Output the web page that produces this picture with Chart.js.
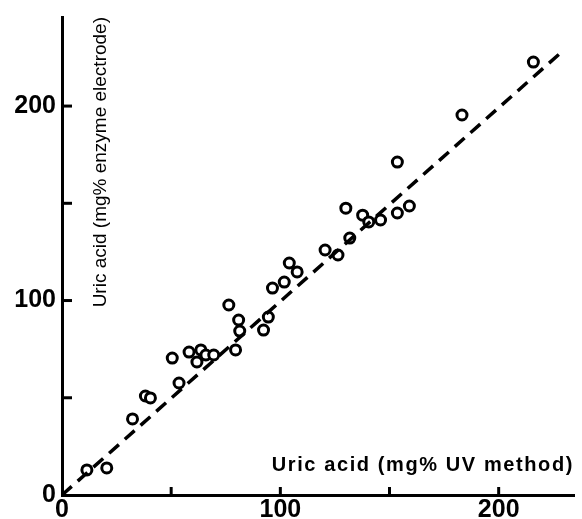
<!DOCTYPE html>
<html>
<head>
<meta charset="utf-8">
<script src="https://cdn.jsdelivr.net/npm/chart.js@4"></script>
<style>
  html, body { margin: 0; padding: 0; background: #fff; }
  #wrap { width: 582px; height: 519px; }
</style>
</head>
<body>
<div id="wrap"><canvas id="uricChart"></canvas></div>
<script>
// UV method (x) vs enzyme electrode (y), mg%
const uvMethod = [11.4, 20.5, 32.3, 38.2, 40.5, 53.6, 50.5, 58.2, 61.8, 63.6, 65.9, 69.5,
    79.5, 81.4, 80.9, 76.4, 92.3, 94.5, 96.4, 101.8, 104.1, 107.7, 120.5, 126.4,
    131.8, 130.0, 137.7, 140.5, 145.9, 153.6, 159.1, 153.6, 183.2, 215.9];
const enzymeElectrode = [12.9, 13.9, 39.1, 50.9, 49.9, 57.6, 70.4, 73.5, 68.4, 74.6, 72.0, 72.0,
    74.6, 84.3, 90.0, 97.7, 84.8, 91.5, 106.4, 109.5, 119.3, 114.7, 126.0, 123.4,
    132.1, 147.5, 143.9, 140.4, 141.4, 145.0, 148.6, 171.2, 195.4, 222.6];

// regression line ends
const fitX = [0, 229];
const fitY = [0, 228];

const tickValues = [0, 50, 100, 150, 200];
const tickLabels = ['0', '', '100', '', '200'];

const xTitle = 'Uric acid (mg% UV method)';
const yTitle = 'Uric acid (mg% enzyme electrode)';

const points = uvMethod.map((v, i) => ({ x: v, y: enzymeElectrode[i] }));
const fitLine = fitX.map((v, i) => ({ x: v, y: fitY[i] }));

// inward tick marks + titles inside the plot
const innerBits = {
    id: 'innerBits',
    afterDraw(chart) {
        const c = chart.ctx;
        const xs = chart.scales.x, ys = chart.scales.y;
        const area = chart.chartArea;
        c.save();
        c.strokeStyle = '#000';
        c.lineWidth = 3;
        tickValues.forEach(v => {
            if (v === 0) return;
            const px = xs.getPixelForValue(v);
            c.beginPath(); c.moveTo(px, area.bottom); c.lineTo(px, area.bottom - 8); c.stroke();
            const py = ys.getPixelForValue(v);
            c.beginPath(); c.moveTo(area.left, py); c.lineTo(area.left + 10, py); c.stroke();
        });
        c.fillStyle = '#000';
        c.textBaseline = 'alphabetic';
        c.textAlign = 'right';
        c.font = 'bold 20px "Liberation Sans", Arial, sans-serif';
        c.letterSpacing = '1.6px';
        c.fillText(xTitle, area.right, area.bottom - 24);
        c.letterSpacing = '0px';
        c.font = '19px "Liberation Sans", Arial, sans-serif';
        c.translate(area.left + 44, area.top);
        c.rotate(-Math.PI / 2);
        c.fillText(yTitle, 0, 0);
        c.restore();
    }
};

const ctx = document.getElementById('uricChart').getContext('2d');
new Chart(ctx, {
    type: 'scatter',
    data: {
        datasets: [{
            label: 'fit',
            type: 'line',
            data: fitLine,
            borderColor: '#000',
            borderWidth: 3.5,
            borderDash: [13, 8],
            pointRadius: 0,
            fill: false
        }, {
            label: 'samples',
            data: points,
            pointStyle: 'circle',
            pointRadius: 5,
            borderWidth: 3,
            borderColor: '#000',
            backgroundColor: '#fff'
        }]
    },
    plugins: [innerBits],
    options: {
        responsive: true,
        maintainAspectRatio: false,
        animation: false,
        layout: { padding: { top: 17, right: 4, left: 0, bottom: 0 } },
        plugins: {
            legend: { display: false },
            tooltip: { enabled: false }
        },
        scales: {
            x: {
                type: 'linear',
                min: 0,
                max: 234.5,
                afterBuildTicks: s => { s.ticks = tickValues.map(v => ({ value: v })); },
                afterFit: s => { s.height = 24; s.paddingLeft = 0; s.paddingRight = 0; },
                grid: { display: false, drawTicks: false },
                border: { display: true, color: '#000', width: 3 },
                ticks: {
                    color: '#000',
                    padding: 0,
                    maxRotation: 0,
                    autoSkip: false,
                    font: { family: 'Liberation Sans', size: 25, weight: 'bold' },
                    callback: (v, i) => tickLabels[i]
                }
            },
            y: {
                type: 'linear',
                min: 0,
                max: 245.8,
                afterBuildTicks: s => { s.ticks = tickValues.map(v => ({ value: v })); },
                afterFit: s => { s.width = 62; s.paddingTop = 0; s.paddingBottom = 0; },
                grid: { display: false, drawTicks: false },
                border: { display: true, color: '#000', width: 3 },
                ticks: {
                    color: '#000',
                    padding: 6,
                    autoSkip: false,
                    font: { family: 'Liberation Sans', size: 25, weight: 'bold' },
                    callback: (v, i) => tickLabels[i]
                }
            }
        }
    }
});
</script>
</body>
</html>
